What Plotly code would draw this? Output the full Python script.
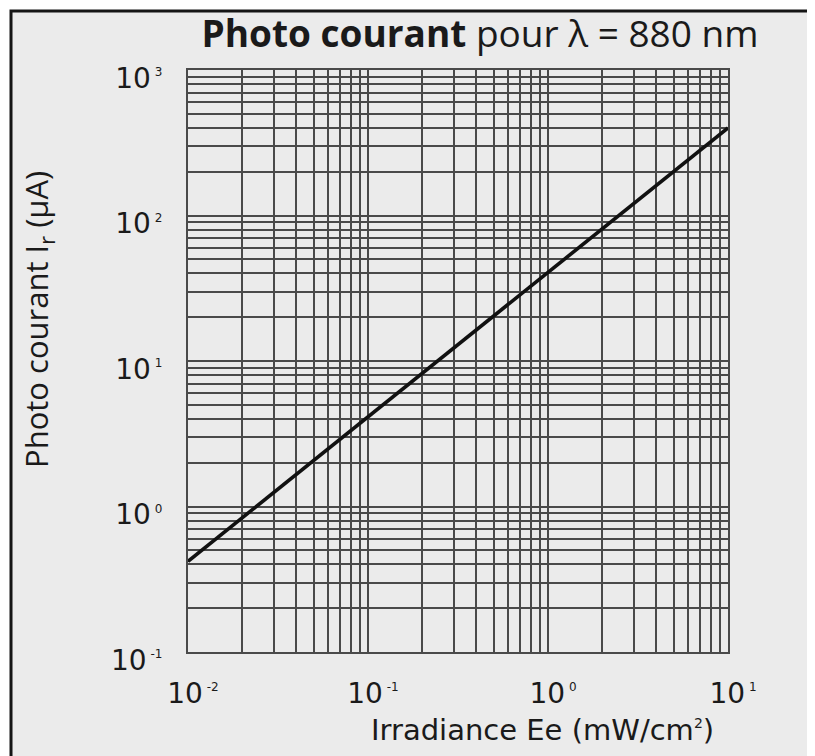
import plotly.graph_objects as go

# ---- data ----
irradiance = [0.01, 0.03, 0.1, 0.3, 1.0, 3.0, 10.0]          # mW/cm^2
photocurrent = [0.42, 1.25, 4.1, 12.2, 40.0, 120.0, 400.0]     # µA

x_decades = [-2, -1, 0, 1]
x_decade_labels = ["-2", "-1", "0", "1"]
y_decades = [-1, 0, 1, 2, 3]
y_decade_labels = ["-1", "0", "1", "2", "3"]
mantissas = [1, 2, 3, 4, 5, 6, 7, 8, 9]

title_text = "<b>Photo courant</b> pour λ = 880 nm"
x_title = "Irradiance Ee (mW/cm<sup><span style='font-size:14px'>2</span></sup>)"
y_title = "Photo courant I<sub>r</sub> (μA)"


def log_ticks(decades, labels):
    vals, texts = [], []
    for i, d in enumerate(decades):
        for m in mantissas:
            if d == decades[-1] and m > 1:
                break
            vals.append(m * 10.0 ** d)
            if m == 1:
                texts.append("10<sup><span style='font-size:12px'> %s</span></sup>" % labels[i])
            else:
                texts.append("")
    return vals, texts


xt_vals, xt_text = log_ticks(x_decades, x_decade_labels)
yt_vals, yt_text = log_ticks(y_decades, y_decade_labels)

grid_color = "#4a4a4a"
grid_w = 2
bg = "#ebebeb"

# page has an 8px body margin: figure is placed at (8, 8)
W, H = 807, 748
L, T, R, B = 180, 62, 87, 104
PW, PH = W - L - R, H - T - B   # 540 x 582

fig = go.Figure()
fig.add_trace(go.Scatter(
    x=irradiance, y=photocurrent, mode="lines",
    line=dict(color="#111111", width=3.6), showlegend=False,
))

fig.update_layout(
    width=W, height=H,
    margin=dict(l=L, r=R, t=T, b=B),
    paper_bgcolor="white",
    plot_bgcolor=bg,
    title=dict(text=title_text, x=472 / W, xanchor="center",
               y=1 - 26 / H, yanchor="middle",
               font=dict(family="Open Sans", size=37, color="#1a1a1a")),
    font=dict(family="DejaVu Sans", color="#1a1a1a"),
)

fig.update_xaxes(
    type="log", range=[-2, 1],
    tickvals=xt_vals, ticktext=xt_text, tickangle=0,
    tickfont=dict(family="DejaVu Sans", size=28, color="#1a1a1a"),
    ticks="", ticklabelstandoff=15, ticklabelshift=5,
    showgrid=True, gridcolor=grid_color, gridwidth=grid_w,
    showline=True, linecolor=grid_color, linewidth=grid_w, mirror=True,
    zeroline=False,
)
fig.update_yaxes(
    type="log", range=[-1, 3],
    tickvals=yt_vals, ticktext=yt_text,
    tickfont=dict(family="DejaVu Sans", size=28, color="#1a1a1a"),
    ticks="", ticklabelstandoff=18, ticklabelshift=8,
    showgrid=True, gridcolor=grid_color, gridwidth=grid_w,
    showline=True, linecolor=grid_color, linewidth=grid_w, mirror=True,
    zeroline=False,
)

# light grey frame with dark top/left border (as in the scanned figure)
fig.add_shape(type="rect", xref="paper", yref="paper",
              x0=(3 - L) / PW, x1=1.3, y0=-0.3, y1=(T + PH - 3) / PH,
              line=dict(color="#151515", width=3), fillcolor=bg, layer="below")

fig.add_annotation(text=x_title, xref="paper", yref="paper",
                   x=(534 - L) / PW, y=(T + PH - 722) / PH,
                   xanchor="center", yanchor="middle", showarrow=False,
                   font=dict(family="DejaVu Sans", size=29, color="#1a1a1a"))
fig.add_annotation(text=y_title, xref="paper", yref="paper",
                   x=(30 - L) / PW, y=(T + PH - 312) / PH,
                   xanchor="center", yanchor="middle", showarrow=False,
                   textangle=-90,
                   font=dict(family="Open Sans", size=31, color="#1a1a1a"))

fig.write_html("out.html")
